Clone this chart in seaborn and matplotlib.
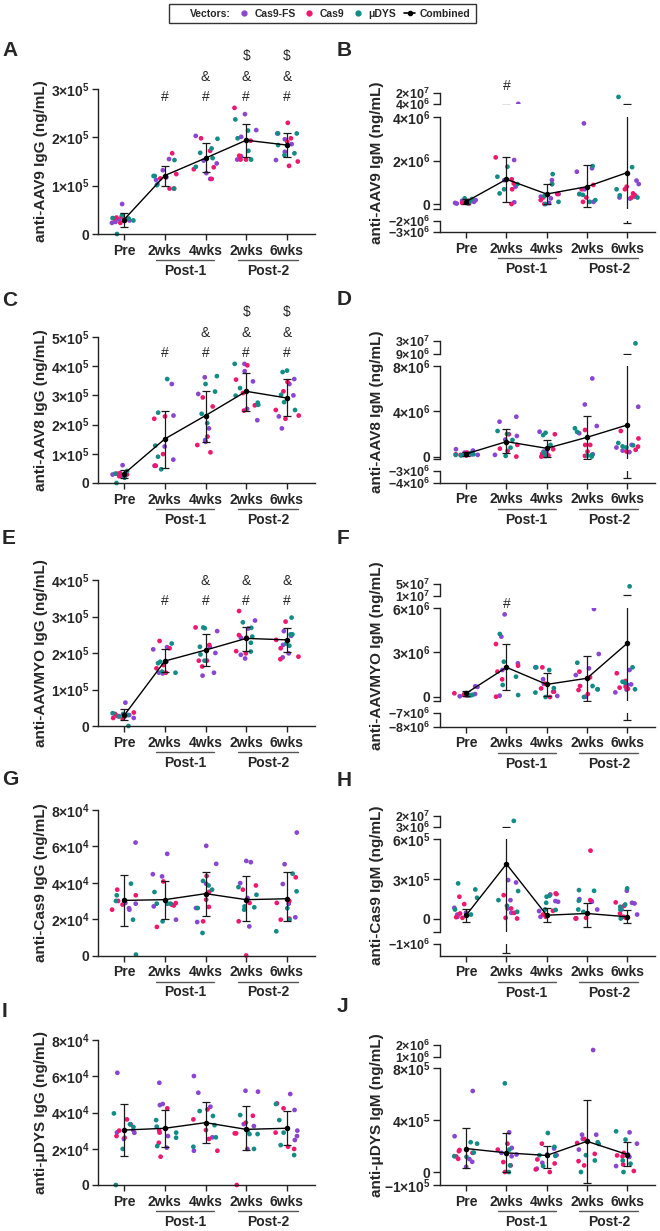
import numpy as np
import pandas as pd
import matplotlib
matplotlib.use("Agg")
import matplotlib.pyplot as plt
import matplotlib.transforms as mtransforms
from matplotlib.lines import Line2D
import seaborn as sns

# ---- categories -------------------------------------------------------------
times = ["Pre", "P1-2wks", "P1-4wks", "P2-2wks", "P2-6wks"]
time_labels = ["Pre", "2wks", "4wks", "2wks", "6wks"]
vectors = ["Cas9-FS", "Cas9", "μDYS"]
colors = ["#8a45d3", "#f0186e", "#138c87"]

# ---- A: anti-AAV9 IgG (x1e5 ng/mL), 5 mice per vector per time point -------
aav9_igg_fs = [[0.62, 0.28, 0.23, 0.30, 0.25], [1.55, 1.32, 1.17, 1.12, 1.03], [2.03, 1.52, 1.46, 1.26, 1.14],
               [2.48, 2.15, 2.01, 1.61, 1.54], [2.08, 1.96, 1.86, 1.70, 1.53]]
aav9_igg_cas9 = [[0.32, 0.34, 0.23, 0.36, 0.28], [1.67, 1.24, 1.15, 0.94, 0.94], [1.98, 1.72, 1.38, 1.34, 1.14],
                 [2.61, 1.93, 1.62, 1.54, 1.54], [2.30, 1.98, 1.91, 1.50, 1.41]]
aav9_igg_dys = [[0.39, 0.32, 0.00, 0.28, 0.33], [1.53, 1.20, 1.20, 1.01, 0.94], [1.97, 1.77, 1.68, 1.57, 1.39],
                [2.37, 2.14, 1.98, 1.72, 1.54], [2.08, 2.08, 1.84, 1.67, 1.63]]
aav9_igg_mean = [0.30, 1.21, 1.57, 1.94, 1.84]
aav9_igg_lo = [0.15, 1.00, 1.28, 1.59, 1.59]
aav9_igg_hi = [0.44, 1.41, 1.88, 2.28, 2.08]

# ---- B: anti-AAV9 IgM (x1e6) ------------------------------------------------
aav9_igm_fs = [[0.18, 0.15, 0.10, 0.05, 0.02], [4.2, 2.03, 1.10, 0.80, 0.08], [1.10, 0.46, 0.34, 0.26, 0.05],
               [3.72, 1.65, 1.49, 0.68, 0.10], [1.08, 0.92, 0.34, 0.30, 0.25]]
aav9_igm_cas9 = [[0.15, 0.12, 0.08, 0.05, 0.03], [2.15, 1.14, 0.95, 0.68, 0.00], [0.92, 0.46, 0.30, 0.18, 0.00],
                 [0.88, 0.68, 0.46, 0.30, 0.10], [0.80, 0.68, 0.49, 0.40, 0.30]]
aav9_igm_dys = [[0.26, 0.23, 0.06, 0.04, 0.10], [1.72, 1.26, 0.92, 0.68, 0.49], [1.38, 0.92, 0.37, 0.10, 0.00],
                [1.75, 0.46, 0.42, 0.18, 0.10], [14.0, 1.70, 0.68, 0.40, 0.30]]
aav9_igm_mean = [0.11, 1.14, 0.46, 0.80, 1.45]
aav9_igm_lo = [0.0, 0.09, 0.0, -0.12, -2.15]
aav9_igm_hi = [0.24, 2.15, 0.92, 1.80, 4.2]

# ---- C: anti-AAV8 IgG (x1e5) ------------------------------------------------
aav8_igg_fs = [[0.61, 0.29, 0.26, 0.26, 0.23], [3.39, 2.31, 1.25, 0.80, 0.59], [3.62, 3.05, 1.87, 1.47, 1.41],
               [4.08, 3.83, 3.48, 2.54, 2.15], [3.56, 3.39, 3.00, 2.28, 1.87]]
aav8_igg_cas9 = [[0.34, 0.32, 0.29, 0.23, 0.30], [2.28, 2.20, 0.99, 0.59, 0.59], [2.93, 2.62, 1.59, 1.30, 1.05],
                 [4.03, 3.54, 3.08, 2.66, 2.48], [3.46, 3.14, 2.50, 2.31, 2.20]]
aav8_igg_dys = [[0.41, 0.32, 0.32, 0.18, 0.00], [3.56, 2.41, 1.28, 0.90, 0.47], [3.66, 3.39, 3.13, 2.37, 2.05],
                [4.08, 3.25, 2.99, 2.68, 2.75], [3.85, 3.80, 3.02, 2.77, 2.50]]
aav8_igg_mean = [0.32, 1.51, 2.31, 3.14, 2.91]
aav8_igg_lo = [0.18, 0.52, 1.41, 2.48, 2.30]
aav8_igg_hi = [0.44, 2.48, 3.16, 3.77, 3.56]

# ---- D: anti-AAV8 IgM (x1e6) ------------------------------------------------
aav8_igm_fs = [[0.65, 0.53, 0.35, 0.20, 0.15], [3.52, 3.08, 1.50, 1.82, 0.15], [2.20, 0.44, 0.44, 0.15, 0.05],
               [6.90, 4.60, 2.70, 2.06, 0.20], [4.40, 1.03, 0.80, 0.53, 0.40]]
aav8_igm_cas9 = [[0.35, 0.30, 0.20, 0.15, 0.10], [1.97, 1.03, 0.70, 0.50, 0.00], [1.97, 0.65, 0.25, 0.10, 0.00],
                 [2.35, 1.03, 1.03, 0.44, 0.06], [2.26, 1.60, 0.88, 0.60, 0.44]]
aav8_igm_dys = [[0.30, 0.20, 0.15, 0.15, 0.10], [2.26, 2.00, 1.47, 0.79, 0.06], [2.10, 1.90, 1.03, 0.35, 0.05],
                [2.50, 2.18, 0.15, 0.10, 0.00], [26.2, 1.20, 0.90, 0.80, 1.00]]
aav8_igm_mean = [0.24, 1.32, 0.73, 1.70, 2.79]
aav8_igm_lo = [0.06, 0.35, 0.0, -0.20, -3.63]
aav8_igm_hi = [0.44, 2.40, 1.47, 3.58, 9.3]

# ---- E: anti-AAVMYO IgG (x1e5) ----------------------------------------------
myo_igg_fs = [[0.64, 0.30, 0.27, 0.25, 0.22], [2.16, 2.10, 1.76, 1.46, 1.44], [2.60, 2.17, 2.00, 1.46, 1.38],
              [2.89, 2.67, 2.42, 1.95, 1.85], [2.60, 2.47, 2.22, 1.99, 1.88]]
myo_igg_cas9 = [[0.37, 0.33, 0.28, 0.22, 0.20], [2.33, 2.13, 1.67, 1.58, 1.46], [2.70, 2.22, 1.79, 1.63, 1.79],
                [3.15, 2.49, 2.42, 2.05, 1.99], [2.86, 2.36, 2.13, 1.90, 1.83]]
myo_igg_dys = [[0.35, 0.33, 0.30, 0.26, 0.00], [2.26, 1.76, 1.72, 1.49, 1.46], [2.70, 2.68, 2.17, 1.96, 1.79],
               [2.84, 2.69, 2.45, 2.28, 2.04], [2.97, 2.51, 2.51, 2.26, 2.20]]
myo_igg_mean = [0.29, 1.78, 2.08, 2.40, 2.36]
myo_igg_lo = [0.16, 1.49, 1.64, 2.06, 2.04]
myo_igg_hi = [0.46, 2.10, 2.51, 2.72, 2.68]

# ---- F: anti-AAVMYO IgM (x1e6) ----------------------------------------------
myo_igm_fs = [[0.72, 0.68, 0.20, 0.10, 0.05], [5.57, 4.07, 2.27, 1.82, 0.09], [2.00, 1.20, 0.88, 0.36, 0.07],
              [5.93, 2.90, 1.93, 1.48, 0.02], [1.82, 0.85, 0.81, 0.50, 0.31]]
myo_igm_cas9 = [[0.25, 0.20, 0.15, 0.15, 0.12], [3.57, 2.11, 1.71, 1.19, 0.02], [2.00, 0.90, 0.58, 0.36, 0.00],
                [1.71, 1.33, 0.74, 0.47, 0.20], [1.60, 1.08, 0.70, 0.63, 0.55]]
myo_igm_dys = [[0.20, 0.18, 0.15, 0.12, 0.10], [4.25, 2.38, 1.37, 0.81, 0.13], [2.00, 1.82, 0.60, 0.30, 0.00],
               [2.31, 0.74, 0.52, 0.52, 0.00], [43.0, 2.00, 1.03, 0.95, 0.52]]
myo_igm_mean = [0.25, 2.00, 0.85, 1.26, 3.62]
myo_igm_lo = [0.09, 0.47, 0.07, -0.25, -7.5]
myo_igm_hi = [0.40, 3.57, 1.64, 2.76, 15.0]

# ---- G: anti-Cas9 IgG (x1e4) ------------------------------------------------
cas9_igg_fs = [[6.21, 2.89, 2.85, 2.52, 2.60], [5.59, 4.47, 4.35, 2.70, 1.97], [6.03, 5.04, 3.95, 2.61, 1.84],
               [5.20, 5.13, 3.98, 3.16, 1.60], [6.76, 5.02, 3.93, 2.85, 2.10]]
cas9_igg_cas9 = [[3.62, 3.31, 2.52, 3.00, 2.80], [4.07, 2.88, 2.79, 2.75, 1.57], [4.37, 3.07, 2.67, 1.88, 3.50],
                 [3.85, 3.62, 2.89, 1.88, 0.00], [4.30, 3.00, 2.89, 2.03, 1.97]]
cas9_igg_dys = [[3.95, 3.31, 1.97, 0.05, 3.00], [3.49, 2.85, 2.85, 2.85, 1.88], [4.10, 3.85, 3.62, 2.61, 1.24],
                [3.76, 3.34, 2.70, 2.65, 2.52], [4.50, 3.53, 2.60, 1.97, 1.33]]
cas9_igg_mean = [3.03, 3.07, 3.40, 3.07, 3.12]
cas9_igg_lo = [1.64, 2.00, 2.19, 1.88, 1.88]
cas9_igg_hi = [4.40, 4.07, 4.58, 4.35, 4.58]

# ---- H: anti-Cas9 IgM (x1e5) ------------------------------------------------
cas9_igm_fs = [[0.81, 0.43, 0.43, 0.30, 0.13], [2.91, 2.73, 1.39, 0.76, 0.43], [1.82, 1.32, 1.27, 0.56, 0.13],
               [1.47, 1.32, 1.27, 0.68, 0.00], [2.10, 1.19, 1.14, 0.68, 0.30]]
cas9_igm_cas9 = [[1.65, 1.09, 0.38, 0.10, 0.05], [1.77, 0.76, 0.43, 0.05, 0.00], [1.90, 1.85, 0.58, 0.30, 0.13],
                 [5.14, 1.39, 0.05, 0.02, 0.00], [1.22, 0.96, 0.38, 0.13, 0.05]]
cas9_igm_dys = [[2.66, 2.20, 1.57, 0.68, 0.30], [120.0, 2.08, 1.39, 0.96, 0.51], [1.72, 1.65, 1.19, 0.68, 0.65],
                [2.15, 2.10, 1.35, 0.68, 0.50], [2.28, 1.06, 0.89, 0.68, 0.00]]
cas9_igm_mean = [0.25, 4.13, 0.25, 0.38, 0.13]
cas9_igm_lo = [-0.30, -18.0, -0.25, -0.63, -0.33]
cas9_igm_hi = [0.71, 31.0, 0.76, 1.19, 0.63]

# ---- I: anti-μDYS IgG (x1e4) ------------------------------------------------
dys_igg_fs = [[6.19, 3.03, 2.90, 2.88, 2.54], [5.64, 4.47, 4.41, 2.70, 2.06], [6.01, 5.09, 4.32, 2.63, 1.89],
              [5.20, 5.15, 3.36, 3.25, 1.99], [5.02, 4.14, 3.00, 2.70, 2.48]]
dys_igg_cas9 = [[3.62, 3.35, 2.61, 3.00, 2.70], [4.23, 3.00, 2.89, 2.33, 1.56], [4.17, 3.62, 3.03, 2.54, 1.89],
                [3.82, 3.44, 2.85, 2.85, 0.00], [4.50, 4.23, 2.89, 2.11, 1.99]]
dys_igg_dys = [[3.95, 3.35, 1.99, 0.00, 3.20], [3.58, 3.22, 2.89, 2.61, 2.15], [4.08, 3.81, 3.30, 2.63, 2.11],
               [3.86, 2.81, 2.81, 1.99, 3.00], [4.47, 3.58, 2.89, 2.20, 1.65]]
dys_igg_mean = [3.03, 3.13, 3.44, 3.07, 3.13]
dys_igg_lo = [1.62, 2.11, 2.30, 1.93, 2.20]
dys_igg_hi = [4.45, 4.14, 4.56, 4.36, 4.10]

# ---- J: anti-μDYS IgM (x1e5) ------------------------------------------------
dys_igm_fs = [[6.25, 2.76, 1.00, 0.79, 0.40], [3.06, 1.86, 1.48, 1.35, 1.22], [1.81, 1.35, 1.30, 0.71, 0.26],
              [15.7, 2.88, 2.88, 2.55, 1.73], [3.06, 2.19, 1.35, 1.17, 0.46]]
dys_igm_cas9 = [[1.70, 1.61, 1.48, 1.02, 1.20], [2.19, 1.73, 0.77, 0.51, 0.00], [2.19, 0.97, 0.66, 0.20, 0.00],
                [2.55, 2.24, 1.40, 0.84, 0.51], [1.48, 1.28, 1.20, 0.59, 0.08]]
dys_igm_dys = [[2.30, 2.19, 1.22, 1.17, 1.50], [6.84, 1.73, 1.40, 0.51, 0.00], [3.01, 1.94, 1.30, 1.25, 0.46],
               [2.30, 2.17, 1.30, 0.89, 0.00], [3.14, 2.50, 0.89, 0.64, 0.00]]
dys_igm_mean = [1.81, 1.48, 1.28, 2.37, 1.35]
dys_igm_lo = [0.33, 0.00, 0.33, -0.82, 0.46]
dys_igm_hi = [3.39, 3.01, 1.99, 5.56, 2.30]

# ---- style ------------------------------------------------------------------
sns.set_style("ticks")
plt.rcParams["font.family"] = ["Liberation Sans", "DejaVu Sans"]
plt.rcParams["font.weight"] = "bold"
plt.rcParams["mathtext.fontset"] = "custom"
plt.rcParams["mathtext.rm"] = "Liberation Sans:bold"
plt.rcParams["mathtext.bf"] = "Liberation Sans:bold"
plt.rcParams["axes.linewidth"] = 1.0
plt.rcParams["axes.edgecolor"] = "#222222"

palette = dict(zip(vectors, colors))
W, H = 660, 1231
fig = plt.figure(figsize=(W / 100, H / 100), dpi=100)


def fy(px):
    return 1 - px / H


def sci(s):
    if "×" not in s:
        return s
    m, e = s.split("×10^")
    return r"$\mathbf{%s{\times}10^{%s}}$" % (m, e)


def long_df(fs, cas9, dys, scale):
    rows = []
    for vec, arr in zip(vectors, [fs, cas9, dys]):
        for t, vals in zip(times, arr):
            for v in vals:
                rows.append((t, vec, v * scale))
    return pd.DataFrame(rows, columns=["time", "vector", "value"])


def outside(v, ylim):
    # values that belong to another axis segment are pushed far away so that
    # half-clipped markers do not peek over the segment edge
    if ylim is None:
        return v
    span = ylim[1] - ylim[0]
    v = np.asarray(v, dtype=float)
    return np.where(v < ylim[0], ylim[0] - 100 * span, np.where(v > ylim[1], ylim[1] + 100 * span, v))


def draw(ax, df, mean, lo, hi, scale, seed, ylim=None):
    clip = ylim is not None
    df = df.assign(value=outside(df["value"], ylim))
    np.random.seed(seed)
    sns.stripplot(data=df, x="time", y="value", hue="vector", order=times, hue_order=vectors,
                  palette=palette, jitter=0.3, size=3.4, linewidth=0, legend=False, ax=ax,
                  clip_on=clip, zorder=2)
    m = np.array(mean) * scale
    sns.pointplot(x=times, y=outside(m, ylim), order=times, color="black", errorbar=None,
                  markersize=3.2, linewidth=1.0, ax=ax, zorder=5, clip_on=clip)
    eb = ax.errorbar(np.arange(len(times)), m, yerr=[m - np.array(lo) * scale, np.array(hi) * scale - m],
                     fmt="none", ecolor="#1a1a1a", elinewidth=0.9, capsize=2.8, capthick=0.9, zorder=4)
    for art in list(eb[1]) + list(eb[2]):
        art.set_clip_on(clip)
    ax.set_xlim(-0.65, 4.69)
    if ylim is not None:
        ax.set_ylim(ylim)
    ax.set_xlabel("")
    ax.set_ylabel("")


def style(ax, show_x, ticklen, ylabelsize=10):
    sns.despine(ax=ax, top=True, right=True, bottom=not show_x)
    ax.tick_params(axis="y", length=ticklen, width=1, labelsize=ylabelsize, pad=2, color="#222222")
    ax.tick_params(axis="x", length=4, width=1, labelsize=10, pad=3, color="#222222")
    if show_x:
        ax.set_xticks(range(len(times)), time_labels)
    else:
        ax.set_xticks([])


def add_post(ax, bot):
    tr = mtransforms.blended_transform_factory(ax.transData, fig.transFigure)
    for (x0, x1), name in zip([(0.78, 2.22), (2.8, 4.28)], ["Post-1", "Post-2"]):
        ax.plot([x0, x1], [fy(bot + 26)] * 2, transform=tr, color="#555555", lw=1, clip_on=False)
        ax.text((x0 + x1) / 2, fy(bot + 37), name, transform=tr, ha="center", va="center",
                fontsize=10, fontweight="bold")


def add_marks(ax, marks, y0, step=20.3):
    tr = mtransforms.blended_transform_factory(ax.transData, fig.transFigure)
    for i, m in enumerate(marks):
        for k, ch in enumerate(m):
            ax.text(i, fy(y0 - k * step), ch, transform=tr, ha="center", va="center",
                    fontsize=10, fontweight="normal", clip_on=False)


def left_panel(letter, letter_y, label, fs, cas9, dys, mean, lo, hi, scale, ymax, ticks, tlabels,
               top, bot, marks=None, mark_y=None, seed=0):
    ax = fig.add_axes([97.7 / W, fy(bot), (315 - 97.7) / W, (bot - top) / H])
    draw(ax, long_df(fs, cas9, dys, scale), mean, lo, hi, scale, seed)
    ax.set_ylim(0, ymax)
    ax.set_yticks(ticks, [sci(t) for t in tlabels])
    style(ax, True, 4)
    add_post(ax, bot)
    if marks:
        add_marks(ax, marks, mark_y)
    fig.text(41 / W, fy((top + bot) / 2), label, rotation=90, ha="center", va="center",
             fontsize=11, fontweight="bold")
    fig.text(2 / W, fy(letter_y), letter, ha="left", va="center", fontsize=15, fontweight="bold")


def right_panel(letter, letter_y, label, fs, cas9, dys, mean, lo, hi, scale, segments,
                marks=None, mark_y=None, seed=0):
    df = long_df(fs, cas9, dys, scale)
    axes = []
    for j, (ylim, ticks, tlabels, top, bot) in enumerate(segments):
        ax = fig.add_axes([440 / W, fy(bot), (655 - 440) / W, (bot - top) / H])
        draw(ax, df, mean, lo, hi, scale, seed, ylim)
        ax.set_yticks(ticks, [sci(t) for t in tlabels])
        small = (bot - top) < 20
        style(ax, j == len(segments) - 1, 5, 9 if small else 10)
        axes.append(ax)
    add_post(axes[-1], segments[-1][4])
    if marks:
        add_marks(axes[0], marks, mark_y)
    top, bot = segments[0][3], segments[-1][4]
    fig.text(377 / W, fy((top + bot) / 2), label, rotation=90, ha="center", va="center",
             fontsize=11, fontweight="bold")
    fig.text(337 / W, fy(letter_y), letter, ha="left", va="center", fontsize=15, fontweight="bold")


# ---- left column (IgG) ----------------------------------------------------------
left_panel("A", 50.5, "anti-AAV9 IgG (ng/mL)", aav9_igg_fs, aav9_igg_cas9, aav9_igg_dys,
           aav9_igg_mean, aav9_igg_lo, aav9_igg_hi, 1e5, 3e5, [0, 1e5, 2e5, 3e5],
           ["0", "1×10^5", "2×10^5", "3×10^5"], 89, 234,
           ["", "#", "#&", "#&$", "#&$"], 97, seed=1)
left_panel("C", 300, "anti-AAV8 IgG (ng/mL)", aav8_igg_fs, aav8_igg_cas9, aav8_igg_dys,
           aav8_igg_mean, aav8_igg_lo, aav8_igg_hi, 1e5, 5e5, [0, 1e5, 2e5, 3e5, 4e5, 5e5],
           ["0", "1×10^5", "2×10^5", "3×10^5", "4×10^5", "5×10^5"], 337, 483,
           ["", "#", "#&", "#&$", "#&$"], 353, seed=2)
left_panel("E", 538.5, "anti-AAVMYO IgG (ng/mL)", myo_igg_fs, myo_igg_cas9, myo_igg_dys,
           myo_igg_mean, myo_igg_lo, myo_igg_hi, 1e5, 4e5, [0, 1e5, 2e5, 3e5, 4e5],
           ["0", "1×10^5", "2×10^5", "3×10^5", "4×10^5"], 580, 726,
           ["", "#", "#&", "#&", "#&"], 601, seed=3)
left_panel("G", 779.5, "anti-Cas9 IgG (ng/mL)", cas9_igg_fs, cas9_igg_cas9, cas9_igg_dys,
           cas9_igg_mean, cas9_igg_lo, cas9_igg_hi, 1e4, 8e4, [0, 2e4, 4e4, 6e4, 8e4],
           ["0", "2×10^4", "4×10^4", "6×10^4", "8×10^4"], 810, 955.5, seed=4)
left_panel("I", 1011.5, "anti-μDYS IgG (ng/mL)", dys_igg_fs, dys_igg_cas9, dys_igg_dys,
           dys_igg_mean, dys_igg_lo, dys_igg_hi, 1e4, 8e4, [0, 2e4, 4e4, 6e4, 8e4],
           ["0", "2×10^4", "4×10^4", "6×10^4", "8×10^4"], 1040, 1185, seed=5)

# ---- right column (IgM, broken axes) ----------------------------------------------
right_panel("B", 50.5, "anti-AAV9 IgM (ng/mL)", aav9_igm_fs, aav9_igm_cas9, aav9_igm_dys,
            aav9_igm_mean, aav9_igm_lo, aav9_igm_hi, 1e6,
            [((4e6, 2e7), [4e6, 2e7], ["4×10^6", "2×10^7"], 92.7, 104),
             ((-0.23e6, 4e6), [-0.23e6, 0, 2e6, 4e6], ["", "0", "2×10^6", "4×10^6"], 117.3, 209),
             ((-3e6, -2e6), [-3e6, -2e6], ["-3×10^6", "-2×10^6"], 221, 232.3)],
            ["", "#", "", "", ""], 86, seed=6)
right_panel("D", 299.5, "anti-AAV8 IgM (ng/mL)", aav8_igm_fs, aav8_igm_cas9, aav8_igm_dys,
            aav8_igm_mean, aav8_igm_lo, aav8_igm_hi, 1e6,
            [((9e6, 3e7), [9e6, 3e7], ["9×10^6", "3×10^7"], 341, 354),
             ((-0.24e6, 8e6), [-0.24e6, 0, 4e6, 8e6], ["", "0", "4×10^6", "8×10^6"], 366, 459.3),
             ((-4e6, -3e6), [-4e6, -3e6], ["-4×10^6", "-3×10^6"], 471, 482.7)],
            ["", "#", "", "", ""], 396, seed=7)
right_panel("F", 538.5, "anti-AAVMYO IgM (ng/mL)", myo_igm_fs, myo_igm_cas9, myo_igm_dys,
            myo_igm_mean, myo_igm_lo, myo_igm_hi, 1e6,
            [((1e7, 5e7), [1e7, 5e7], ["1×10^7", "5×10^7"], 584.3, 596),
             ((-0.29e6, 6e6), [-0.29e6, 0, 3e6, 6e6], ["", "0", "3×10^6", "6×10^6"], 608, 701.3),
             ((-8e6, -7e6), [-8e6, -7e6], ["-8×10^6", "-7×10^6"], 712.7, 726.7)],
            ["", "#", "", "", ""], 604, seed=8)
right_panel("H", 780, "anti-Cas9 IgM (ng/mL)", cas9_igm_fs, cas9_igm_cas9, cas9_igm_dys,
            cas9_igm_mean, cas9_igm_lo, cas9_igm_hi, 1e5,
            [((3e6, 2e7), [3e6, 2e7], ["3×10^6", "2×10^7"], 815.7, 826.7),
             ((-1e5, 6e5), [-1e5, 0, 3e5, 6e5], ["", "0", "3×10^5", "6×10^5"], 839.3, 931.7),
             ((-2e6, -1e6), [-1e6], ["-1×10^6"], 944, 955.7)], seed=9)
right_panel("J", 1006.5, "anti-μDYS IgM (ng/mL)", dys_igm_fs, dys_igm_cas9, dys_igm_dys,
            dys_igm_mean, dys_igm_lo, dys_igm_hi, 1e5,
            [((1e6, 2e6), [1e6, 2e6], ["1×10^6", "2×10^6"], 1045, 1056.7),
             ((-1e5, 8e5), [-1e5, 0, 4e5, 8e5], ["-1×10^5", "0", "4×10^5", "8×10^5"], 1068.3, 1185)],
            seed=10)

# ---- legend -------------------------------------------------------------------
handles = [Line2D([], [], linestyle="none")]
handles += [Line2D([], [], marker="o", linestyle="none", color=c, markersize=3.5) for c in colors]
handles += [Line2D([], [], color="black", marker="o", markersize=3, lw=1.2)]
leg = fig.legend(handles, ["Vectors:"] + vectors + ["Combined"], ncol=5, loc="upper center",
                 bbox_to_anchor=(322.5 / W, fy(4)), borderaxespad=0, frameon=True, fancybox=False,
                 edgecolor="black", prop={"weight": "bold", "size": 7.5}, handlelength=1.0,
                 handletextpad=0.5, columnspacing=0.8, borderpad=0.45)
leg.get_frame().set_linewidth(1.0)

fig.savefig("out.png", dpi=100)
